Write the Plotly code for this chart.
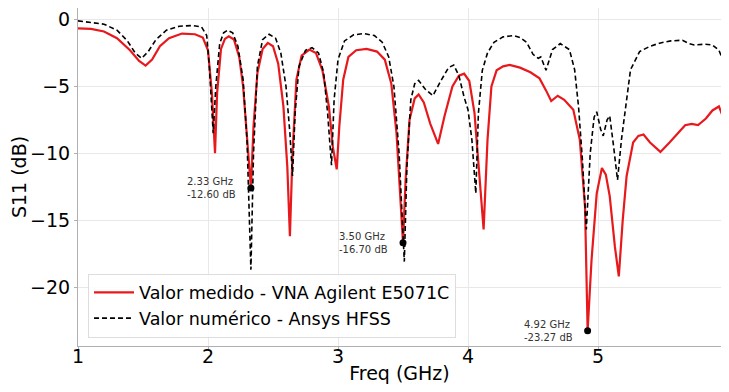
import plotly.graph_objects as go

# Measured (VNA Agilent E5071C)
freq_meas = [1.00, 1.10, 1.20, 1.30, 1.40, 1.47, 1.52, 1.57, 1.63, 1.70, 1.80, 1.90, 1.96, 2.00, 2.03, 2.054,
             2.07, 2.10, 2.13, 2.16, 2.20, 2.24, 2.27, 2.30, 2.33, 2.35, 2.38, 2.42, 2.46, 2.50, 2.54, 2.58,
             2.61, 2.63, 2.65, 2.68, 2.72, 2.78, 2.83, 2.88, 2.93, 2.96, 2.99, 3.01, 3.04, 3.08, 3.14, 3.22,
             3.30, 3.36, 3.41, 3.45, 3.48, 3.50, 3.52, 3.55, 3.59, 3.62, 3.66, 3.71, 3.77, 3.82, 3.88, 3.93,
             3.97, 4.01, 4.05, 4.08, 4.12, 4.15, 4.18, 4.22, 4.27, 4.32, 4.40, 4.48, 4.55, 4.60, 4.64, 4.69,
             4.74, 4.81, 4.86, 4.90, 4.92, 4.95, 4.99, 5.03, 5.06, 5.09, 5.13, 5.16, 5.19, 5.22, 5.27, 5.31,
             5.35, 5.40, 5.48, 5.55, 5.62, 5.67, 5.72, 5.77, 5.83, 5.88, 5.93, 5.97, 6.00]
s11_meas = [-0.67, -0.70, -0.9, -1.4, -2.3, -3.1, -3.45, -3.0, -2.0, -1.4, -1.05, -1.1, -1.35, -2.3, -5.5, -10.0,
            -5.5, -2.2, -1.45, -1.25, -1.5, -2.8, -5.0, -8.5, -12.6, -8.0, -4.0, -2.2, -1.75, -2.0, -3.3, -6.5,
            -11.0, -16.2, -10.0, -4.5, -2.7, -2.25, -2.5, -3.8, -6.5, -9.5, -11.2, -8.0, -4.5, -2.8, -2.3, -2.2,
            -2.4, -3.0, -4.8, -8.5, -13.0, -16.7, -12.0, -7.5, -5.9, -5.6, -6.2, -7.8, -9.3, -7.2, -5.0, -4.2,
            -4.05, -4.6, -7.0, -11.0, -15.7, -9.0, -5.0, -3.8, -3.5, -3.4, -3.6, -3.95, -4.4, -5.3, -6.1, -5.7,
            -6.0, -6.75, -9.0, -14.0, -23.27, -18.0, -13.0, -11.1, -11.6, -13.2, -17.0, -19.2, -15.0, -11.7, -9.2, -8.7,
            -8.6, -9.2, -9.9, -9.2, -8.4, -7.9, -7.8, -7.9, -7.4, -6.8, -6.5, -7.5, -9.2]

# Simulated (Ansys HFSS)
freq_sim = [1.00, 1.10, 1.20, 1.30, 1.38, 1.44, 1.49, 1.54, 1.60, 1.68, 1.78, 1.88, 1.95, 1.99, 2.01, 2.04,
            2.06, 2.09, 2.12, 2.15, 2.19, 2.23, 2.27, 2.30, 2.33, 2.35, 2.38, 2.42, 2.47, 2.52, 2.56, 2.60,
            2.63, 2.65, 2.67, 2.70, 2.75, 2.80, 2.85, 2.89, 2.92, 2.95, 2.97, 3.00, 3.05, 3.12, 3.20, 3.28,
            3.34, 3.39, 3.43, 3.47, 3.51, 3.53, 3.56, 3.59, 3.62, 3.67, 3.73, 3.79, 3.85, 3.89, 3.93, 3.97,
            4.00, 4.03, 4.06, 4.08, 4.11, 4.15, 4.20, 4.27, 4.35, 4.40, 4.45, 4.50, 4.54, 4.56, 4.60, 4.65,
            4.71, 4.78, 4.82, 4.85, 4.88, 4.91, 4.94, 4.97, 4.99, 5.02, 5.04, 5.07, 5.09, 5.12, 5.15, 5.18,
            5.21, 5.25, 5.32, 5.40, 5.48, 5.56, 5.65, 5.70, 5.74, 5.82, 5.88, 5.93, 5.96, 6.00]
s11_sim = [-0.1, -0.2, -0.35, -0.8, -1.6, -2.5, -2.9, -2.4, -1.5, -0.8, -0.5, -0.45, -0.55, -1.2, -3.5, -8.5,
           -5.0, -1.8, -1.0, -0.8, -1.0, -2.0, -4.5, -9.0, -18.7, -10.0, -3.5, -1.5, -1.1, -1.4, -2.5, -5.0,
           -8.5, -11.7, -7.0, -3.5, -2.3, -2.1, -2.5, -4.0, -7.0, -10.9, -6.0, -3.0, -1.6, -1.15, -1.05, -1.2,
           -1.7, -2.8, -5.0, -10.0, -18.1, -11.0, -6.0, -4.8, -4.55, -5.2, -5.7, -4.6, -3.6, -3.4, -4.2, -5.8,
           -6.75, -9.0, -13.0, -7.0, -3.8, -2.5, -1.7, -1.3, -1.2, -1.35, -1.7, -2.6, -2.9, -2.8, -3.8, -2.25,
           -1.8, -2.25, -3.75, -6.5, -10.5, -15.7, -10.0, -7.3, -6.9, -8.2, -8.7, -7.5, -7.2, -9.5, -12.0, -9.0,
           -6.75, -3.75, -2.4, -2.0, -1.75, -1.6, -1.55, -1.8, -1.9, -1.85, -1.9, -2.3, -3.0, -5.0]

# Annotated points
mark_freq = [2.33, 3.50, 4.92]
mark_s11 = [-12.60, -16.70, -23.27]

FONT = "DejaVu Sans"

fig = go.Figure()
fig.add_trace(go.Scatter(x=freq_meas, y=s11_meas, mode="lines",
                         name="Valor medido - VNA Agilent E5071C",
                         line=dict(color="#e8191c", width=2.2)))
fig.add_trace(go.Scatter(x=freq_sim, y=s11_sim, mode="lines",
                         name="Valor numérico - Ansys HFSS",
                         line=dict(color="black", width=1.6, dash="5px,3px")))
fig.add_trace(go.Scatter(x=mark_freq, y=mark_s11, mode="markers", showlegend=False,
                         marker=dict(color="black", size=7)))

for f, s in zip(mark_freq, mark_s11):
    fig.add_annotation(x=f, y=s, text=f"{f:.2f} GHz<br>{s:.2f} dB", showarrow=False,
                       xanchor="right", yanchor="middle", xshift=-13, align="left",
                       font=dict(family=FONT, size=10, color="#333333"))

# The page body has an 8px margin, so the figure is sized to fit without scrollbars
fig.update_layout(
    width=713, height=376,
    margin=dict(l=70, r=0, t=0, b=38),
    paper_bgcolor="white", plot_bgcolor="white",
    font=dict(family=FONT, size=19, color="black"),
    showlegend=True,
    legend=dict(x=0.0156, y=0.025, xanchor="left", yanchor="bottom",
                bgcolor="rgba(255,255,255,0.85)", bordercolor="#dddddd", borderwidth=1,
                font=dict(family=FONT, size=17.5), itemwidth=40, tracegroupgap=0),
)
fig.update_xaxes(range=[1, 5.946], tickvals=[1, 2, 3, 4, 5, 6], automargin=False,
                 title=dict(text="Freq (GHz)", font=dict(size=19), standoff=14),
                 tickfont=dict(size=19), ticklabelstandoff=-10,
                 showgrid=True, gridcolor="#e8e8e8", gridwidth=1,
                 showline=True, linecolor="#b0b0b0", linewidth=1, mirror=True,
                 ticks="outside", ticklen=3, tickcolor="#b0b0b0", zeroline=False)
fig.update_yaxes(range=[-24.41, 0.86], tickvals=[0, -5, -10, -15, -20], automargin=False,
                 title=dict(text="S11 (dB)", font=dict(size=19), standoff=0),
                 tickfont=dict(size=19),
                 showgrid=True, gridcolor="#e8e8e8", gridwidth=1,
                 showline=True, linecolor="#b0b0b0", linewidth=1, mirror=False,
                 ticks="outside", ticklen=3, tickcolor="#b0b0b0", zeroline=False)

fig.write_html("out.html")
